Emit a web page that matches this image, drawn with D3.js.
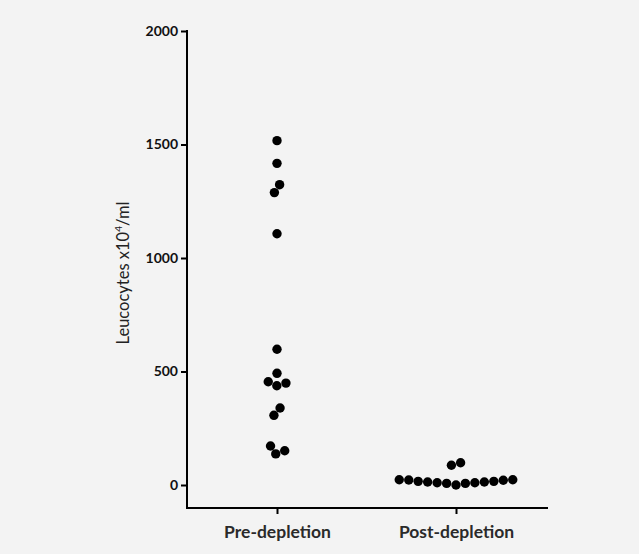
<html>
<head>
<script src="https://cdnjs.cloudflare.com/ajax/libs/d3/7.8.5/d3.min.js"></script>
<style>
body {
    margin: 0;
    background-color: #f3f3f3;
}
#canvas {
    background-color: #f3f3f3;
}
</style>
</head>
<body>
<svg id="canvas" width="639" height="554"></svg>
<script>
// values (Leucocytes x10^4/ml)
var groups = ["Pre-depletion", "Post-depletion"];
var preValues = [1517, 1417, 1323, 1288, 1107, 598, 492, 455, 449, 437, 339, 307, 172, 151, 137];
var postValues = [98, 87, 23, 22, 16, 13, 10, 7, 0, 7, 10, 13, 16, 21, 23];
var yTicks = [0, 500, 1000, 1500, 2000];

var svg = d3.select("#canvas");
var r = 4.7;
var gap = 9.5;

var x = d3.scalePoint().domain(groups).range([277, 456]);
var y = d3.scaleLinear().domain([0, 2000]).range([485, 31]);

// y axis
var yAxis = d3.axisLeft(y).tickValues(yTicks).tickFormat(d3.format("d"))
    .tickSize(6).tickPadding(3).tickSizeOuter(0);
var gy = svg.append("g").attr("transform", "translate(187,0)").call(yAxis);
gy.select(".domain").remove();
gy.append("line").attr("x1", 0).attr("x2", 0).attr("y1", 30).attr("y2", 508)
    .attr("stroke", "#000").attr("stroke-width", 2);
gy.selectAll(".tick line").attr("stroke", "#000").attr("stroke-width", 2);
gy.selectAll(".tick text").attr("fill", "#111")
    .style("font-family", "Lato").style("font-weight", "bold").style("font-size", "14px");

// x axis
var xAxis = d3.axisBottom(x).tickSize(6).tickPadding(12).tickSizeOuter(0);
var gx = svg.append("g").attr("transform", "translate(0,508)").call(xAxis);
gx.select(".domain").remove();
gx.append("line").attr("x1", 186).attr("x2", 548).attr("y1", 0).attr("y2", 0)
    .attr("stroke", "#000").attr("stroke-width", 2);
gx.selectAll(".tick line").attr("stroke", "#000").attr("stroke-width", 2);
gx.selectAll(".tick text").attr("fill", "#2a2a2a")
    .style("font-family", "Lato").style("font-weight", "bold").style("font-size", "17.5px");

// y label
var lab = svg.append("text")
    .attr("transform", "translate(129,273) rotate(-90)")
    .attr("text-anchor", "middle")
    .style("font-family", "Lato").style("font-size", "16.5px").attr("fill", "#222");
lab.append("tspan").text("Leucocytes x10");
lab.append("tspan").attr("dy", -7).style("font-size", "10px").text("4");
lab.append("tspan").attr("dy", 7).text("/ml");

// simple beeswarm: greedy placement, then centre each cluster
function swarm(values, cx) {
    var pts = values.map(function (v) { return { v: v, py: y(v), dx: 0 }; });
    var order = pts.slice().sort(function (a, b) { return a.v - b.v; });
    var placed = [];
    order.forEach(function (p) {
        var cands = [0];
        placed.forEach(function (q) {
            var dy = Math.abs(q.py - p.py);
            if (dy < gap) {
                var h = Math.sqrt(gap * gap - dy * dy) + 0.01;
                cands.push(q.dx + h, q.dx - h);
            }
        });
        cands.sort(function (a, b) { return Math.abs(a) - Math.abs(b) || b - a; });
        for (var i = 0; i < cands.length; i++) {
            var ok = placed.every(function (q) {
                var ddx = q.dx - cands[i], ddy = q.py - p.py;
                return ddx * ddx + ddy * ddy >= gap * gap - 0.01;
            });
            if (ok) { p.dx = cands[i]; break; }
        }
        placed.push(p);
    });
    // clusters
    var seen = new Set();
    pts.forEach(function (p) {
        if (seen.has(p)) return;
        var stack = [p], cl = [];
        seen.add(p);
        while (stack.length) {
            var a = stack.pop();
            cl.push(a);
            pts.forEach(function (b) {
                if (!seen.has(b) && Math.hypot(a.dx - b.dx, a.py - b.py) < gap + 1) {
                    seen.add(b); stack.push(b);
                }
            });
        }
        var m = d3.mean(cl, function (c) { return c.dx; });
        cl.forEach(function (c) { c.dx -= m; });
    });
    pts.forEach(function (p) { p.px = cx + p.dx; });
    return pts;
}

var allPts = swarm(preValues, x(groups[0])).concat(swarm(postValues, x(groups[1])));

svg.append("g").selectAll("circle").data(allPts).enter().append("circle")
    .attr("cx", function (d) { return d.px; })
    .attr("cy", function (d) { return d.py; })
    .attr("r", r)
    .attr("fill", "#000");
</script>
</body>
</html>
